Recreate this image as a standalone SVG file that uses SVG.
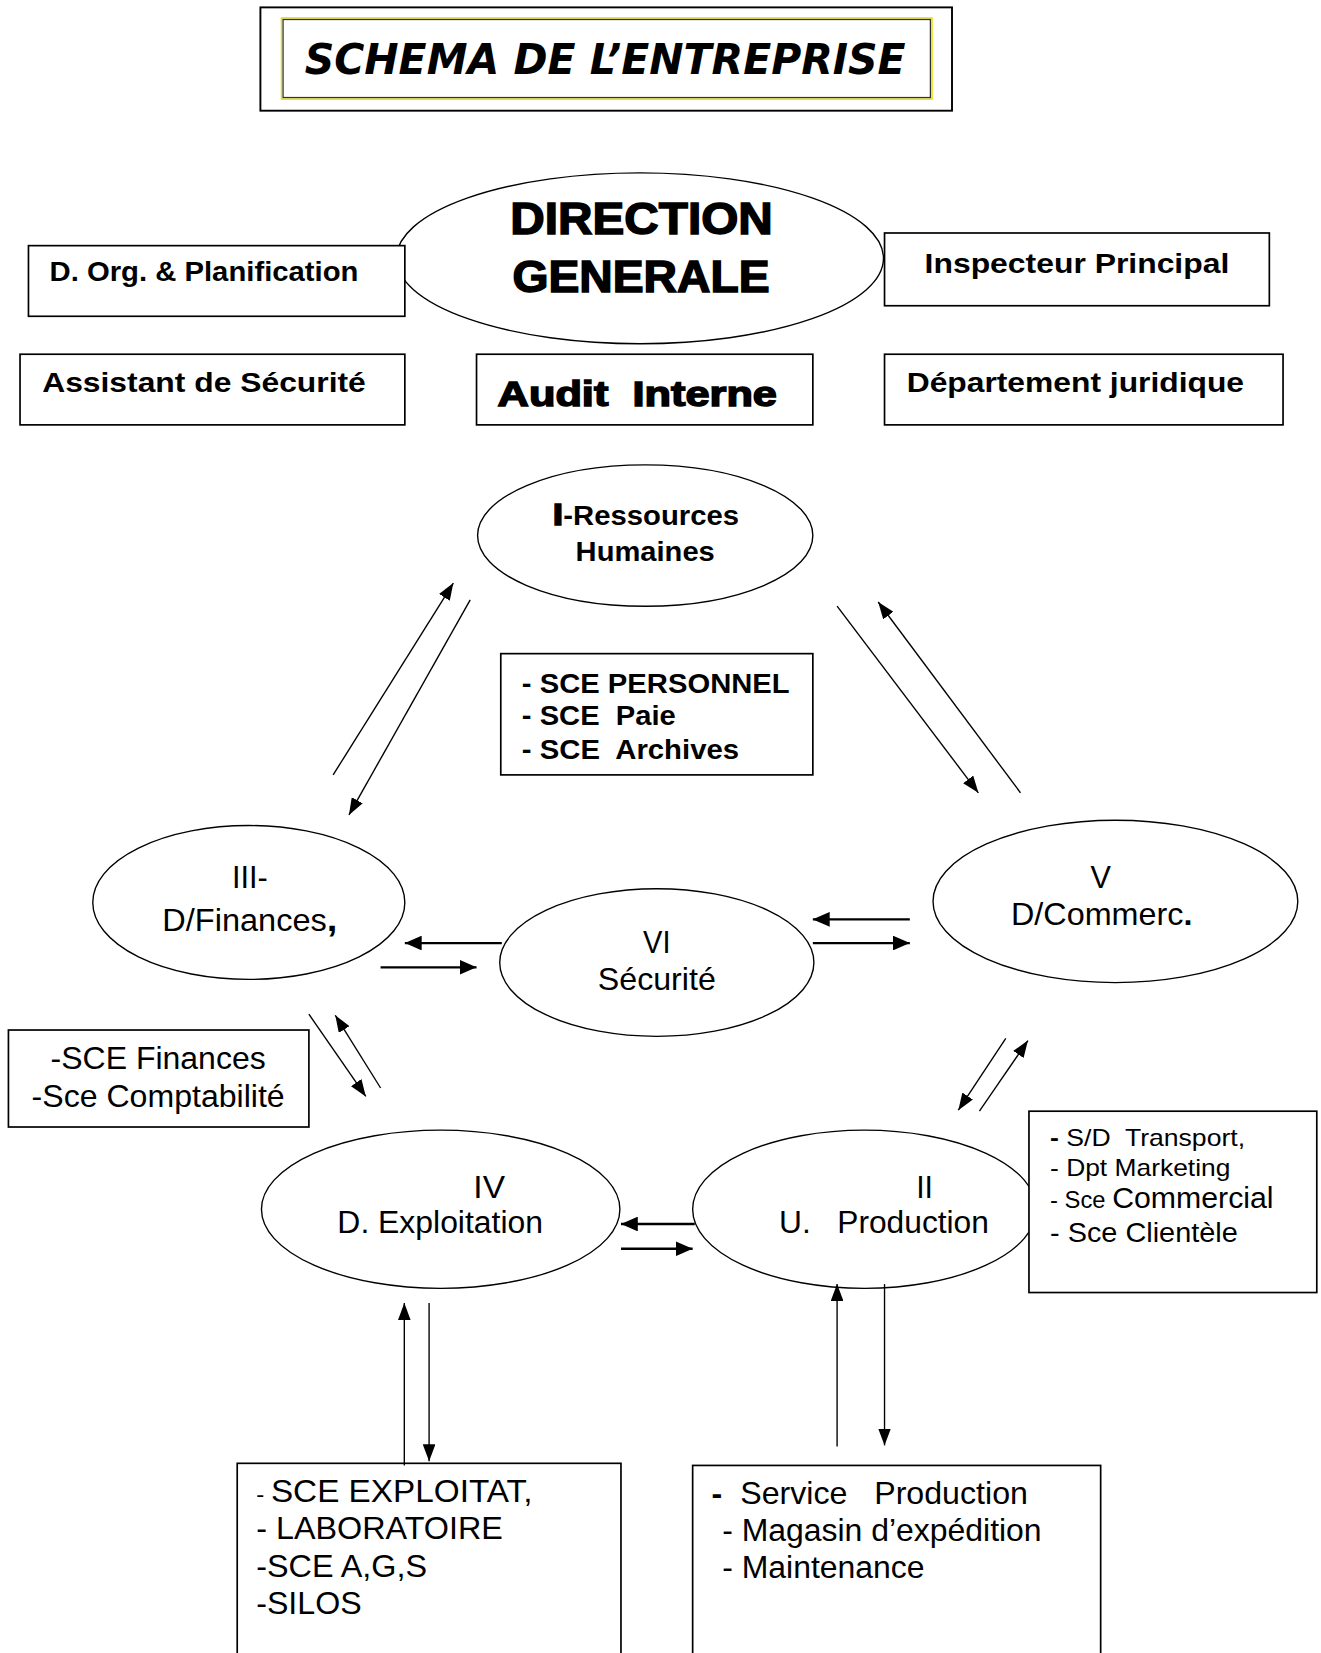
<svg xmlns="http://www.w3.org/2000/svg" width="1321" height="1653" viewBox="0 0 1321 1653">
<style>
  .shape { fill: #fff; stroke: #000; stroke-width: 1.3; }
  .box { fill: #fff; stroke: #000; stroke-width: 1.6; }
  .b { font-family: "Liberation Sans", Arial, sans-serif; font-weight: bold; fill: #000; white-space: pre; }
  .r { font-family: "Liberation Sans", Arial, sans-serif; fill: #000; white-space: pre; }
  .blk { font-family: "Liberation Sans", Arial, sans-serif; font-weight: 900; fill: #000; stroke: #000; stroke-width: 1.4; white-space: pre; }
  .ln { stroke: #000; stroke-width: 1.3; fill: none; }
  .lnh { stroke: #000; stroke-width: 2.2; fill: none; }
</style>
<defs>
  <marker id="ah" viewBox="0 0 16 12" refX="16" refY="6" markerWidth="16" markerHeight="12" markerUnits="userSpaceOnUse" orient="auto">
    <path d="M0,0 L16,6 L0,12 z" fill="#000"/>
  </marker>
  <marker id="ahh" viewBox="0 0 16 14" refX="16" refY="7" markerWidth="16" markerHeight="14" markerUnits="userSpaceOnUse" orient="auto">
    <path d="M0,0 L16,7 L0,14 z" fill="#000"/>
  </marker>
</defs>
<rect x="0" y="0" width="1321" height="1653" fill="#fff"/>
<g transform="scale(1.05427)">

<g id="title">
  <rect x="247" y="7" width="656" height="98" fill="#fff" stroke="#000" stroke-width="1.8"/>
  <rect x="267" y="17" width="617" height="77" fill="#fff" stroke="#e8e000" stroke-width="1.4"/>
  <rect x="268.5" y="18.5" width="614" height="74" fill="none" stroke="#333" stroke-width="1.2"/>
  <text x="289" y="70" font-family="DejaVu Sans, Verdana, sans-serif" font-weight="bold" font-style="italic" font-size="40" textLength="570" lengthAdjust="spacingAndGlyphs">SCHEMA DE L’ENTREPRISE</text>
</g>

<g id="direction-generale">
  <ellipse class="shape" cx="607" cy="245" rx="231" ry="81"/>
  <text class="blk" x="484" y="222" font-size="42" textLength="249" lengthAdjust="spacingAndGlyphs">DIRECTION</text>
  <text class="blk" x="486" y="277" font-size="42" textLength="244" lengthAdjust="spacingAndGlyphs">GENERALE</text>
</g>

<g id="d-org">
  <rect class="box" x="27" y="233" width="357" height="67"/>
  <text class="b" x="47" y="267" font-size="27" textLength="293" lengthAdjust="spacingAndGlyphs">D. Org. &amp; Planification</text>
</g>

<g id="inspecteur">
  <rect class="box" x="839" y="221" width="365" height="69"/>
  <text class="b" x="877" y="259" font-size="27" textLength="289" lengthAdjust="spacingAndGlyphs">Inspecteur Principal</text>
</g>

<g id="assistant">
  <rect class="box" x="19" y="336" width="365" height="67"/>
  <text class="b" x="40" y="372" font-size="27" textLength="307" lengthAdjust="spacingAndGlyphs">Assistant de Sécurité</text>
</g>

<g id="audit">
  <rect class="box" x="452" y="336" width="319" height="67"/>
  <text class="blk" x="472" y="385" font-size="33" stroke-width="0.8" textLength="265" lengthAdjust="spacingAndGlyphs">Audit  Interne</text>
</g>

<g id="juridique">
  <rect class="box" x="839" y="336" width="378" height="67"/>
  <text class="b" x="860" y="372" font-size="27" textLength="320" lengthAdjust="spacingAndGlyphs">Département juridique</text>
</g>

<g id="rh">
  <ellipse class="shape" cx="612" cy="508" rx="159" ry="67"/>
  <text class="b" x="524" y="498" font-size="27" textLength="177" lengthAdjust="spacingAndGlyphs"><tspan font-family="DejaVu Sans, sans-serif" font-weight="900" stroke="#000" stroke-width="1.6">I</tspan>-Ressources</text>
  <text class="b" x="612" y="532" font-size="27" text-anchor="middle" textLength="132" lengthAdjust="spacingAndGlyphs">Humaines</text>
</g>

<g id="rh-services">
  <rect class="box" x="475" y="620" width="296" height="115"/>
  <text class="b" x="495" y="657" font-size="27" textLength="254" lengthAdjust="spacingAndGlyphs">- SCE PERSONNEL</text>
  <text class="b" x="495" y="688" font-size="27" textLength="146" lengthAdjust="spacingAndGlyphs">- SCE  Paie</text>
  <text class="b" x="495" y="720" font-size="27" textLength="206" lengthAdjust="spacingAndGlyphs">- SCE  Archives</text>
</g>

<g id="finances">
  <ellipse class="shape" cx="236" cy="856" rx="148" ry="73"/>
  <text class="r" x="237" y="842" font-size="29" text-anchor="middle" textLength="34" lengthAdjust="spacingAndGlyphs">III-</text>
  <text class="r" x="154" y="883" font-size="29" textLength="166" lengthAdjust="spacingAndGlyphs">D/Finances<tspan font-weight="bold" font-size="34">,</tspan></text>
</g>

<g id="securite">
  <ellipse class="shape" cx="623" cy="913" rx="149" ry="70"/>
  <text class="r" x="623" y="904" font-size="29" text-anchor="middle" textLength="26" lengthAdjust="spacingAndGlyphs">VI</text>
  <text class="r" x="623" y="939" font-size="29" text-anchor="middle" textLength="112" lengthAdjust="spacingAndGlyphs">Sécurité</text>
</g>

<g id="commercial">
  <ellipse class="shape" cx="1058" cy="855" rx="173" ry="77"/>
  <text class="r" x="1044" y="842" font-size="29" text-anchor="middle">V</text>
  <text class="r" x="959" y="877" font-size="29" textLength="172" lengthAdjust="spacingAndGlyphs">D/Commerc<tspan font-weight="bold">.</tspan></text>
</g>

<g id="finances-services">
  <rect class="box" x="8" y="977" width="285" height="92"/>
  <text class="r" x="150" y="1014" font-size="29" text-anchor="middle" textLength="204" lengthAdjust="spacingAndGlyphs">-SCE Finances</text>
  <text class="r" x="150" y="1050" font-size="29" text-anchor="middle" textLength="240" lengthAdjust="spacingAndGlyphs">-Sce Comptabilité</text>
</g>

<g id="exploitation">
  <ellipse class="shape" cx="418" cy="1147" rx="170" ry="75"/>
  <text class="r" x="464" y="1136" font-size="29" text-anchor="middle" textLength="30" lengthAdjust="spacingAndGlyphs">IV</text>
  <text class="r" x="320" y="1170" font-size="29" textLength="195" lengthAdjust="spacingAndGlyphs">D. Exploitation</text>
</g>

<g id="production">
  <ellipse class="shape" cx="820" cy="1147" rx="163" ry="75"/>
  <text class="r" x="877" y="1136" font-size="29" text-anchor="middle" textLength="16" lengthAdjust="spacingAndGlyphs">II</text>
  <text class="r" x="739" y="1170" font-size="29" textLength="199" lengthAdjust="spacingAndGlyphs">U.   Production</text>
</g>

<g id="commercial-services">
  <rect class="box" x="976" y="1054" width="273" height="172"/>
  <text class="r" x="996" y="1087" font-size="22" textLength="185" lengthAdjust="spacingAndGlyphs"><tspan font-weight="bold">-</tspan> S/D  Transport,</text>
  <text class="r" x="996" y="1115" font-size="22" textLength="171" lengthAdjust="spacingAndGlyphs">- Dpt Marketing</text>
  <text class="r" x="996" y="1146" font-size="22" textLength="212" lengthAdjust="spacingAndGlyphs">- Sce <tspan font-size="28">Commercial</tspan></text>
  <text class="r" x="996" y="1178" font-size="27" textLength="178" lengthAdjust="spacingAndGlyphs">- Sce Clientèle</text>
</g>

<g id="exploitation-services">
  <rect class="box" x="225" y="1388" width="364" height="300"/>
  <text class="r" x="243" y="1425" font-size="29" textLength="262" lengthAdjust="spacingAndGlyphs"><tspan font-size="21">- </tspan>SCE EXPLOITAT,</text>
  <text class="r" x="243" y="1460" font-size="29" textLength="234" lengthAdjust="spacingAndGlyphs">- LABORATOIRE</text>
  <text class="r" x="243" y="1496" font-size="29" textLength="162" lengthAdjust="spacingAndGlyphs">-SCE A,G,S</text>
  <text class="r" x="243" y="1531" font-size="29" textLength="100" lengthAdjust="spacingAndGlyphs">-SILOS</text>
</g>

<g id="production-services">
  <rect class="box" x="657" y="1390" width="387" height="300"/>
  <text class="r" x="675" y="1427" font-size="29" textLength="300" lengthAdjust="spacingAndGlyphs"><tspan font-weight="bold">-</tspan>  Service   Production</text>
  <text class="r" x="685" y="1462" font-size="29" textLength="303" lengthAdjust="spacingAndGlyphs">- Magasin d’expédition</text>
  <text class="r" x="685" y="1497" font-size="29" textLength="192" lengthAdjust="spacingAndGlyphs">- Maintenance</text>
</g>

<g id="connectors">
  <line class="ln" x1="316" y1="735" x2="430" y2="553" marker-end="url(#ah)"/>
  <line class="ln" x1="446" y1="569" x2="331" y2="773" marker-end="url(#ah)"/>
  <line class="ln" x1="794" y1="575" x2="928" y2="752" marker-end="url(#ah)"/>
  <line class="ln" x1="968" y1="752" x2="833" y2="571" marker-end="url(#ah)"/>
  <line class="ln" x1="293" y1="962" x2="347" y2="1040" marker-end="url(#ah)"/>
  <line class="ln" x1="361" y1="1032" x2="318" y2="963" marker-end="url(#ah)"/>
  <line class="ln" x1="954" y1="985" x2="909" y2="1053" marker-end="url(#ah)"/>
  <line class="ln" x1="929" y1="1054" x2="975" y2="987" marker-end="url(#ah)"/>
  <line class="lnh" x1="476" y1="894.5" x2="384" y2="894.5" marker-end="url(#ahh)"/>
  <line class="lnh" x1="361" y1="917.5" x2="452" y2="917.5" marker-end="url(#ahh)"/>
  <line class="lnh" x1="863" y1="872" x2="771" y2="872" marker-end="url(#ahh)"/>
  <line class="lnh" x1="771" y1="894.5" x2="863" y2="894.5" marker-end="url(#ahh)"/>
  <line class="lnh" x1="659" y1="1161" x2="589" y2="1161" marker-end="url(#ahh)"/>
  <line class="lnh" x1="589" y1="1184.5" x2="657" y2="1184.5" marker-end="url(#ahh)"/>
  <line class="ln" x1="383.5" y1="1390" x2="383.5" y2="1236" marker-end="url(#ah)"/>
  <line class="ln" x1="407" y1="1236" x2="407" y2="1386" marker-end="url(#ah)"/>
  <line class="ln" x1="794" y1="1372" x2="794" y2="1218" marker-end="url(#ah)"/>
  <line class="ln" x1="839" y1="1218" x2="839" y2="1371" marker-end="url(#ah)"/>
</g>
</g>
</svg>
